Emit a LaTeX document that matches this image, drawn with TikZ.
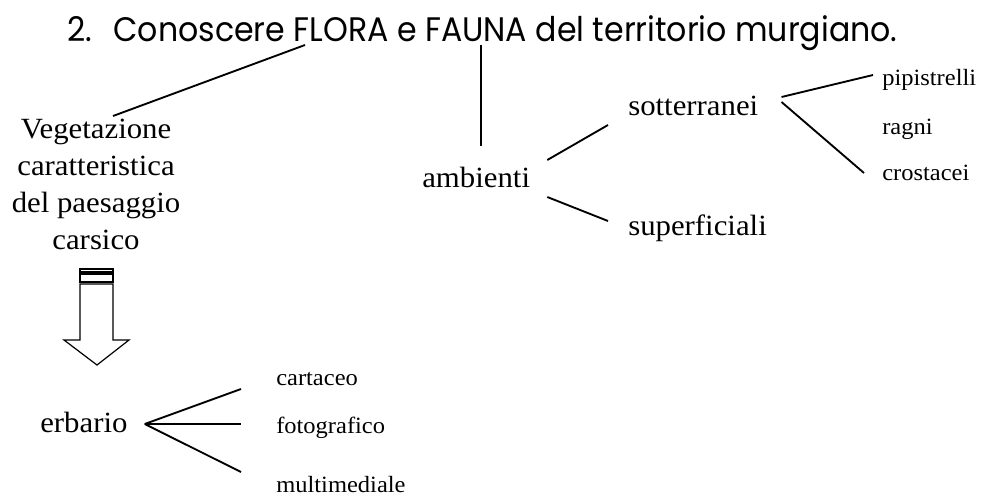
\documentclass[tikz,border=0pt]{standalone}
\usepackage{fontspec}
\setmainfont[FakeStretch=1.05]{Liberation Serif}
\newfontfamily\titlefont[FakeStretch=0.93]{Poppins}
\usetikzlibrary{positioning}

\begin{document}
\begin{tikzpicture}[
  x=0.75pt, y=-0.75pt,
  big/.style={inner sep=0pt, anchor=base west, font=\fontsize{22}{27.75}\selectfont},
  leaf/.style={inner sep=0pt, anchor=base west, font=\fontsize{17.5}{21}\selectfont},
  ln/.style={line width=1.4pt},
  blk/.style={draw, line width=0.9pt, fill=white}
]
\useasboundingbox (0,0) rectangle (988,497);
\node[inner sep=0pt, anchor=base west, font=\titlefont\fontsize{25.5}{30}\selectfont] (title) at (67,41)
  {2.\hspace{16pt}Conoscere FLORA e FAUNA del territorio murgiano.};
\coordinate (flora) at (305,45);
\coordinate (fauna) at (481,45);

\node[big, anchor=north, align=center] (veg) at (96,119) {Vegetazione\\caratteristica\\del paesaggio\\carsico};
\node[big] (amb) at (422,187) {ambienti};
\node[big] (sott) at (628,115) {sotterranei};
\node[big] (sup) at (628,235) {superficiali};
\node[leaf] (pip) at (882,85) {pipistrelli};
\node[leaf, below=36.75pt of pip.base west, anchor=base west] (ragni) {ragni};
\node[leaf, below=34.5pt of ragni.base west, anchor=base west] (cro) {crostacei};
\node[big] (erb) at (40,432) {erbario};
\node[leaf] (cart) at (276,385) {cartaceo};
\node[leaf, below=36pt of cart.base west, anchor=base west] (foto) {fotografico};
\node[leaf, below=44.25pt of foto.base west, anchor=base west] (multi) {multimediale};

\draw[ln] (flora) -- ([shift={(17,-3)}]veg.north);
\draw[ln, shorten >=15pt] (fauna) -- (fauna |- amb.north);
\draw[ln] ([shift={(17,-27)}]amb.base east) -- ([shift={(-20,10)}]sott.base west);
\draw[ln] ([shift={(17,10)}]amb.base east) -- ([shift={(-20,-14)}]sup.base west);
\draw[ln] ([shift={(23,-18)}]sott.base east) -- ([shift={(-9,-10)}]pip.base west);
\draw[ln] ([shift={(23,-13)}]sott.base east) -- ([shift={(-18,-7)}]cro.base west);
\draw[ln] ([shift={(17,-8)}]erb.base east) -- ([shift={(-35,4)}]cart.base west);
\draw[ln] ([shift={(17,-8)}]erb.base east) -- ([shift={(-35,-9)}]foto.base west);
\draw[ln] ([shift={(17,-8)}]erb.base east) -- ([shift={(-35,-20)}]multi.base west);

\draw[blk] (80,269) rectangle (113,272);
\draw[blk] (80,274) rectangle (113,282);
\draw[blk] (80,284) -- (113,284) -- (113,340) -- (129,340) -- (97,365) -- (64,340) -- (80,340) -- cycle;
\end{tikzpicture}
\end{document}
